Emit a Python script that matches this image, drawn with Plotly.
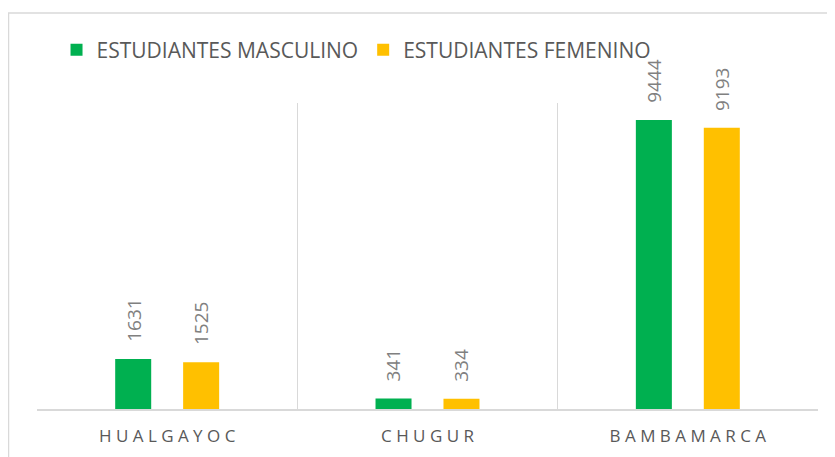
import plotly.graph_objects as go

# données
distritos = ["HUALGAYOC", "CHUGUR", "BAMBAMARCA"]
masculino = [1631, 341, 9444]
femenino = [1525, 334, 9193]
series = [
    ("ESTUDIANTES MASCULINO", masculino, "#00B050", -34),
    ("ESTUDIANTES FEMENINO", femenino, "#FFC000", 34),
]

# étiquettes espacées façon Excel
tick_text = [" ".join(d) for d in distritos]

fig = go.Figure()
for name, vals, color, dx in series:
    fig.add_trace(go.Bar(x=distritos, y=vals, name=name, marker=dict(color=color, line=dict(width=0))))
    for d, v in zip(distritos, vals):
        fig.add_annotation(
            x=d, y=v, text=str(v), textangle=-90, showarrow=False,
            xanchor="center", yanchor="bottom", xshift=dx, yshift=15,
            font=dict(family="Open Sans", size=19, color="#808080"),
        )

# cadre du graphique
fig.add_shape(type="rect", xref="paper", yref="paper",
              x0=-28.5 / 781, x1=1.05, y0=-0.3, y1=1 + 90 / 306,
              line=dict(color="#D9D9D9", width=1.5), layer="below")

# la page a une marge de 8px : on compense
fig.update_layout(
    width=827, height=449,
    margin=dict(l=29, r=17, t=95, b=48),
    paper_bgcolor="white", plot_bgcolor="white",
    barmode="group", bargap=0.478, bargroupgap=0.47,
    showlegend=True,
    legend=dict(orientation="h", x=0.025, y=1 + 53 / 306, xanchor="left", yanchor="middle",
                font=dict(family="Open Sans", size=21, color="#595959"),
                itemwidth=30, traceorder="normal"),
    font=dict(family="Open Sans", color="#595959"),
)
fig.update_xaxes(
    type="category", tickvals=distritos, ticktext=tick_text, tickson="boundaries",
    showgrid=True, gridcolor="#D9D9D9", gridwidth=1.3,
    showline=True, linecolor="#D9D9D9", linewidth=1.5,
    ticks="", ticklabelstandoff=11, automargin=False,
    tickfont=dict(family="Open Sans", size=17, color="#595959"),
)
fig.update_yaxes(range=[0, 10000], showgrid=False, showticklabels=False, zeroline=False)

fig.write_html("out.html")
